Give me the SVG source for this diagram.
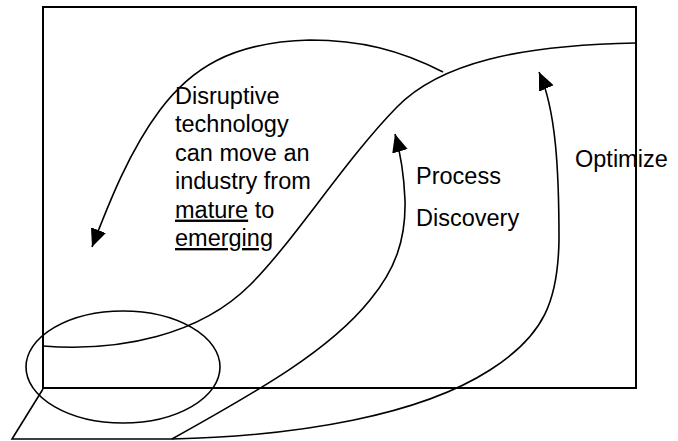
<svg xmlns="http://www.w3.org/2000/svg" width="678" height="441" viewBox="0 0 678 441">
<style>
.ln{fill:none;stroke:#000;stroke-width:1.6}
.t{font-family:"Liberation Sans",Arial,sans-serif;font-size:23.5px;fill:#000}
</style>
<defs>
<marker id="ah" markerUnits="userSpaceOnUse" markerWidth="20" markerHeight="18" refX="18" refY="9" orient="auto">
<path d="M0,1 L18,9 L0,17 Z" fill="#000"/>
</marker>
</defs>
<rect width="678" height="441" fill="#fff"/>
<g id="frame">
<rect x="43" y="7" width="593" height="381" fill="none" stroke="#000" stroke-width="2"/>
</g>
<g id="s-curve">
<path class="ln" d="M43,346 C120,352 200,335 250,285 C295,240 345,160 397,107 C440,63 520,45 636,43"/>
</g>
<g id="ellipse">
<ellipse cx="123" cy="367" rx="97" ry="56" class="ln"/>
</g>
<g id="base">
<path class="ln" d="M43,389 L12,439 L172,439"/>
</g>
<g id="connectors">
<path class="ln" marker-end="url(#ah)" d="M443,72 C400,50 360,40 310,40 C230,42 190,70 160,110 C130,150 110,200 92,247"/>
<path class="ln" marker-end="url(#ah)" d="M172,439 C260,390 330,350 370,300 C395,270 406,240 405,200 C404,175 401,155 395,134"/>
<path class="ln" marker-end="url(#ah)" d="M172,439 C300,436 420,415 490,370 C545,335 558,300 559,240 C559,170 556,110 539,72"/>
</g>
<g id="label-disruptive">
<text class="t" x="175" y="104">Disruptive</text>
<text class="t" x="175" y="132.4">technology</text>
<text class="t" x="175" y="160.8">can move an</text>
<text class="t" x="175" y="189.2">industry from</text>
<text class="t" x="175" y="217.6"><tspan text-decoration="underline">mature</tspan> to</text>
<text class="t" x="175" y="246" text-decoration="underline">emerging</text>
</g>
<g id="label-process">
<text class="t" x="416" y="184">Process</text>
<text class="t" x="416" y="226">Discovery</text>
</g>
<g id="label-optimize">
<text class="t" x="575" y="167">Optimize</text>
</g>
</svg>
